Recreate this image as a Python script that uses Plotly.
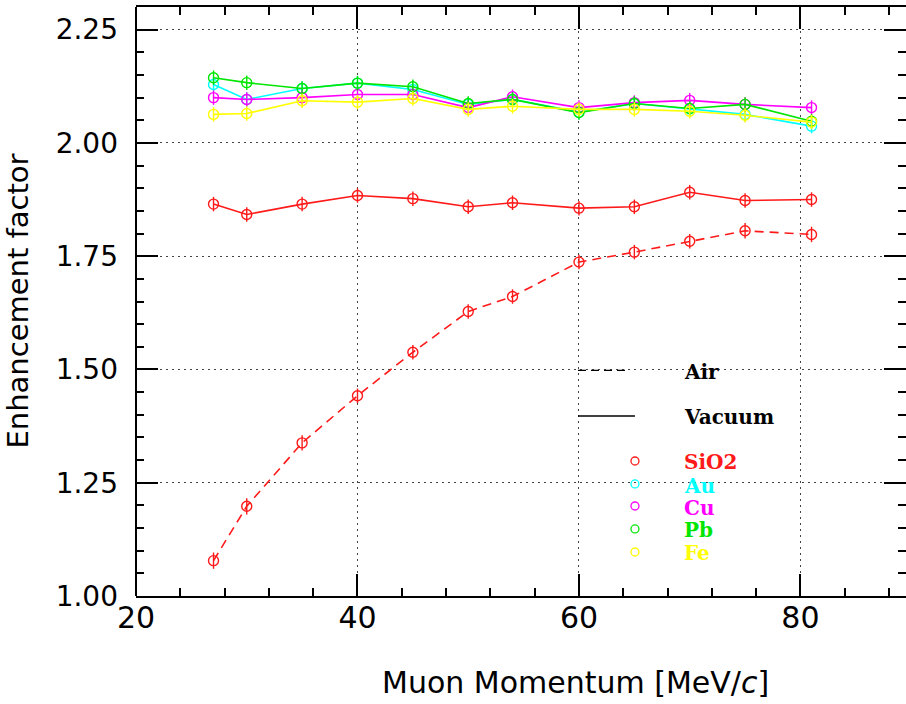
import plotly.graph_objects as go

# ---------------- data ----------------
momentum = [27, 30, 35, 40, 45, 50, 54, 60, 65, 70, 75, 81]

sio2_air = [1.078, 1.198, 1.338, 1.442, 1.538, 1.628, 1.661, 1.737, 1.759, 1.783, 1.806, 1.798]
sio2_vac = [1.865, 1.842, 1.865, 1.884, 1.877, 1.859, 1.868, 1.856, 1.859, 1.891, 1.873, 1.875]
au_vac = [2.129, 2.096, 2.120, 2.132, 2.118, 2.085, 2.096, 2.068, 2.087, 2.075, 2.063, 2.037]
cu_vac = [2.100, 2.096, 2.100, 2.107, 2.107, 2.078, 2.102, 2.078, 2.089, 2.094, 2.085, 2.078]
pb_vac = [2.144, 2.133, 2.120, 2.132, 2.124, 2.087, 2.096, 2.067, 2.087, 2.076, 2.085, 2.048]
fe_vac = [2.063, 2.065, 2.093, 2.090, 2.098, 2.074, 2.081, 2.074, 2.074, 2.070, 2.061, 2.046]

err_air = [0.018, 0.018, 0.017, 0.016, 0.016, 0.016, 0.016, 0.016, 0.016, 0.016, 0.017, 0.017]
err_vac = [0.016, 0.016, 0.016, 0.016, 0.016, 0.016, 0.016, 0.016, 0.016, 0.016, 0.016, 0.016]

legend_labels = ["SiO2", "Au", "Cu", "Pb", "Fe"]
colors = ["#ff1a1a", "#00ffff", "#ff00ff", "#00e600", "#ffff00"]

x_ticks = [20, 40, 60, 80]
y_ticks = [1.00, 1.25, 1.50, 1.75, 2.00, 2.25]

# ---------------- figure ----------------
fig = go.Figure()


def add_series(y, err, color, dash):
    fig.add_trace(go.Scatter(
        x=momentum, y=y, mode="lines+markers",
        line=dict(color=color, width=1.6, dash=dash),
        marker=dict(symbol="circle-open", size=10, color=color, line=dict(width=1.4, color=color)),
        error_y=dict(type="data", array=err, visible=True, color=color, thickness=1.4, width=0),
        showlegend=False, hoverinfo="x+y",
    ))


add_series(sio2_air, err_air, colors[0], "9px,6px")
add_series(sio2_vac, err_vac, colors[0], "solid")
add_series(au_vac, err_vac, colors[1], "solid")
add_series(cu_vac, err_vac, colors[2], "solid")
add_series(pb_vac, err_vac, colors[3], "solid")
add_series(fe_vac, err_vac, colors[4], "solid")

fig.update_xaxes(
    range=[20, 89.53], tickmode="array", tickvals=x_ticks, ticktext=[str(v) for v in x_ticks],
    ticks="inside", ticklen=22, tickwidth=1.5, tickcolor="black",
    minor=dict(dtick=4, tick0=20, ticks="inside", ticklen=8, tickwidth=1.5, tickcolor="black", showgrid=False),
    showline=True, linecolor="black", linewidth=2, mirror="ticks",
    showgrid=True, gridcolor="#444444", gridwidth=1, griddash="1.5px,4.5px",
    zeroline=False, tickfont=dict(family="DejaVu Sans", size=30, color="black"),
    ticklabelstandoff=-6,
)
fig.update_yaxes(
    range=[1.0, 2.30], tickmode="array", tickvals=y_ticks, ticktext=["%.2f" % v for v in y_ticks],
    ticks="inside", ticklen=22, tickwidth=1.5, tickcolor="black",
    minor=dict(dtick=0.05, tick0=1.0, ticks="inside", ticklen=8, tickwidth=1.5, tickcolor="black", showgrid=False),
    showline=False, mirror="ticks",
    showgrid=True, gridcolor="#444444", gridwidth=1, griddash="1.5px,4.5px",
    zeroline=False, tickfont=dict(family="DejaVu Sans", size=28, color="black"),
    ticklabelstandoff=17,
)

shapes = [
    # left axis line
    dict(type="line", xref="paper", yref="paper", x0=0, x1=0, y0=0, y1=1,
         line=dict(color="black", width=2)),
    # legend line samples
    dict(type="line", xref="paper", yref="paper", x0=0.574, x1=0.6416, y0=0.3829, y1=0.3829,
         line=dict(color="black", width=1.3, dash="8px,5px")),
    dict(type="line", xref="paper", yref="paper", x0=0.574, x1=0.648, y0=0.3056, y1=0.3056,
         line=dict(color="black", width=1.5)),
]

annotations = [
    dict(text="Muon Momentum [MeV/<i>c</i>]", xref="paper", yref="paper", x=0.571, y=-0.1477,
         xanchor="center", yanchor="middle", showarrow=False,
         font=dict(family="DejaVu Sans", size=30, color="black")),
    dict(text="Enhancement factor", xref="paper", yref="paper", x=-0.1545, y=0.5,
         xanchor="center", yanchor="middle", showarrow=False, textangle=-90,
         font=dict(family="DejaVu Sans", size=29, color="black")),
]

legend_font = dict(family="DejaVu Serif", size=20, color="black")
annotations.append(dict(text="<b>Air</b>", xref="paper", yref="paper", x=0.709, y=0.380,
                        xanchor="left", yanchor="middle", showarrow=False, font=legend_font))
annotations.append(dict(text="<b>Vacuum</b>", xref="paper", yref="paper", x=0.709, y=0.304,
                        xanchor="left", yanchor="middle", showarrow=False, font=legend_font))

circle_y = [0.2292, 0.1902, 0.1528, 0.1138, 0.0747]
text_y = [0.2275, 0.1868, 0.1494, 0.1120, 0.0730]
for lab, col, cy, ty in zip(legend_labels, colors, circle_y, text_y):
    shapes.append(dict(type="circle", xref="paper", yref="paper", xsizemode="pixel", ysizemode="pixel",
                       xanchor=0.648, yanchor=cy, x0=-4, x1=4, y0=-4, y1=4,
                       line=dict(color=col, width=1.3)))
    annotations.append(dict(text="<b>%s</b>" % lab, xref="paper", yref="paper", x=0.709, y=ty,
                            xanchor="left", yanchor="middle", showarrow=False,
                            font=dict(family="DejaVu Serif", size=20, color=col)))

fig.update_layout(
    width=906, height=704,
    margin=dict(l=136, r=0, t=7, b=108),
    paper_bgcolor="white", plot_bgcolor="white",
    shapes=shapes, annotations=annotations,
    showlegend=False,
)

fig.write_html("out.html")
